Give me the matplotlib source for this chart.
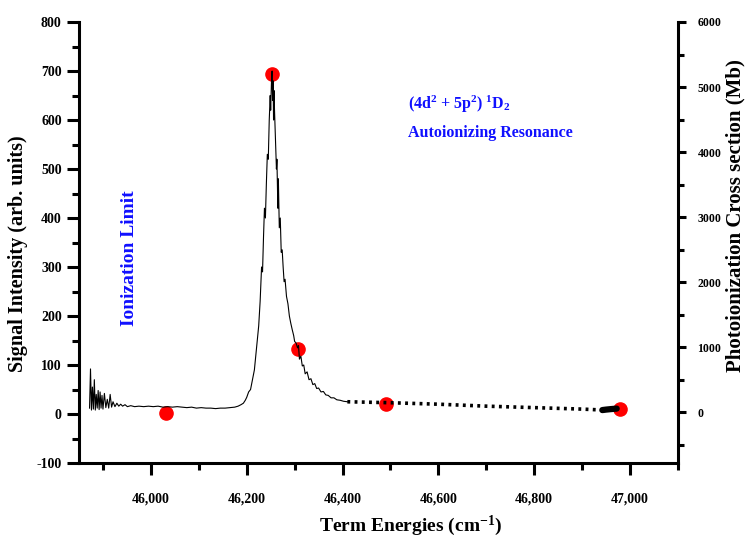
import matplotlib
matplotlib.use("Agg")
import matplotlib.pyplot as plt
from matplotlib.ticker import MultipleLocator, StrMethodFormatter

plt.rcParams["font.family"] = ["Liberation Serif", "DejaVu Serif"]
plt.rcParams["font.weight"] = "bold"
plt.rcParams["mathtext.default"] = "regular"
plt.rcParams["axes.unicode_minus"] = False

# --- Data ----------------------------------------------------------------
# ion signal, noisy part (term energy in cm-1, intensity in arb. units)
signal_x = [45872, 45874, 45876, 45878, 45880, 45882, 45884, 45886, 45888, 45890,
            45892, 45894, 45896, 45898, 45900, 45903, 45906, 45909, 45912, 45915,
            45918, 45921, 45925, 45929, 45933, 45937, 45941, 45946, 45951, 45958,
            45966, 45975, 45985, 45995, 46005, 46015, 46025, 46035, 46045, 46055,
            46065, 46075, 46085, 46095, 46105, 46115, 46125, 46135, 46145, 46155,
            46165, 46175, 46182, 46188, 46193, 46197, 46200, 46204, 46208, 46212,
            46216, 46219, 46222, 46225, 46228, 46231, 46233, 46235, 46237, 46239,
            46241, 46243, 46245, 46247, 46249, 46250, 46252, 46253, 46254, 46255,
            46256, 46257, 46258, 46260, 46262, 46263, 46265, 46266, 46268, 46270,
            46272, 46274, 46276, 46278, 46280, 46283, 46286, 46289, 46292, 46295,
            46298, 46300, 46303, 46306, 46308, 46310, 46313, 46316, 46319, 46322,
            46326, 46330, 46334, 46338, 46342, 46346, 46350, 46355, 46360, 46365,
            46370, 46376, 46382, 46388, 46395, 46402, 46410]
signal_y = [12, 92, 8, 55, 10, 70, 8, 40, 12, 48,
            9, 45, 12, 38, 10, 42, 13, 30, 12, 40,
            14, 25, 15, 22, 16, 20, 16, 19, 15, 17,
            15, 16, 15, 16, 15, 16, 14, 15, 14, 15,
            14, 13, 14, 12, 13, 12, 12, 11, 12, 12,
            13, 14, 16, 19, 22, 28, 34, 45, 50, 70,
            90, 120, 150, 180, 230, 300, 290, 360, 420, 400,
            470, 530, 520, 600, 650, 620, 690, 700, 640, 680,
            600, 660, 620, 560, 500, 520, 420, 480, 380, 400,
            330, 335, 300, 270, 275, 240, 225, 200, 185, 172,
            160, 148, 145, 135, 140, 112, 118, 98, 100, 82,
            86, 70, 72, 60, 62, 52, 53, 45, 46, 39,
            38, 33, 33, 29, 28, 26, 25]

# sparse tail (drawn dotted)
tail_x = [46410, 46500, 46600, 46700, 46800, 46900, 46945]
tail_y = [25, 23, 20, 16, 13, 10, 8]

# dense end of the scan
end_x = [46942, 46950, 46960, 46972]
end_y = [8, 9, 10, 11]

# photoionization cross section points (Mb)
cs_x = [46031, 46253, 46306, 46491, 46980]
cs_y = [-15, 5200, 980, 120, 50]

# --- Figure --------------------------------------------------------------
fig = plt.figure(figsize=(7.48, 5.45), dpi=100)
ax = fig.add_axes([79 / 748, 1 - 463 / 545, 599 / 748, 441 / 545])
ax2 = ax.twinx()

ax.plot(signal_x, signal_y, color="black", lw=0.8)
ax.plot(tail_x, tail_y, color="black", lw=2.6, ls=(0, (0.8, 1.2)))
ax.plot(end_x, end_y, color="black", lw=4.5, solid_capstyle="round")
ax2.plot(cs_x, cs_y, "o", color="red", ms=9.5, mec="red")

# line drawn over the red points
ax.set_zorder(ax2.get_zorder() + 1)
ax.patch.set_visible(False)

ax.set_xlim(45850, 47100)
ax.set_ylim(-100, 800)
ax2.set_ylim(-780, 6000)

ax.xaxis.set_major_locator(MultipleLocator(200))
ax.xaxis.set_minor_locator(MultipleLocator(100))
ax.xaxis.set_major_formatter(StrMethodFormatter("{x:,.0f}"))
ax.yaxis.set_major_locator(MultipleLocator(100))
ax.yaxis.set_minor_locator(MultipleLocator(50))
ax2.yaxis.set_major_locator(MultipleLocator(1000))
ax2.yaxis.set_minor_locator(MultipleLocator(500))

for s in ["top", "right"]:
    ax.spines[s].set_visible(False)
for s in ["top", "left", "bottom"]:
    ax2.spines[s].set_visible(False)
for s in ["left", "bottom"]:
    ax.spines[s].set_linewidth(2.2)
ax2.spines["right"].set_linewidth(2.2)

ax.tick_params(axis="both", which="major", direction="out", length=8.5, width=2.2,
               labelsize=10)
ax.tick_params(axis="both", which="minor", direction="out", length=5, width=2.2)
ax.tick_params(axis="x", which="major", pad=13)
ax.tick_params(axis="y", which="major", pad=4)
ax2.tick_params(axis="y", which="major", direction="out", length=6, width=2.2,
                labelsize=8.5, pad=8)
ax2.tick_params(axis="y", which="minor", direction="out", length=4, width=2.2)

ax.set_xlabel("Term Energies (cm$^{-1}$)", fontsize=14, fontweight="bold")
ax.xaxis.set_label_coords(0.553, -0.115)
ax.set_ylabel("Signal Intensity (arb. units)", fontsize=14.5, fontweight="bold")
ax.yaxis.set_label_coords(-0.085, 0.475)
ax2.set_ylabel("Photoionization Cross section (Mb)", fontsize=15, fontweight="bold")
ax2.yaxis.set_label_coords(1.08, 0.56)

ax.text(45956, 180, "Ionization Limit", rotation=90, ha="center", va="bottom",
        color="#1010ff", fontsize=14, fontweight="bold")
ax.text(46537, 622, "(4d$^2$ + 5p$^2$) $^1$D$_2$", ha="left", va="baseline",
        color="#1010ff", fontsize=11.5, fontweight="bold")
ax.text(46537, 565, "Autoionizing Resonance", ha="left", va="baseline",
        color="#1010ff", fontsize=11.5, fontweight="bold")

fig.savefig("out.png", dpi=100)
plt.close(fig)
